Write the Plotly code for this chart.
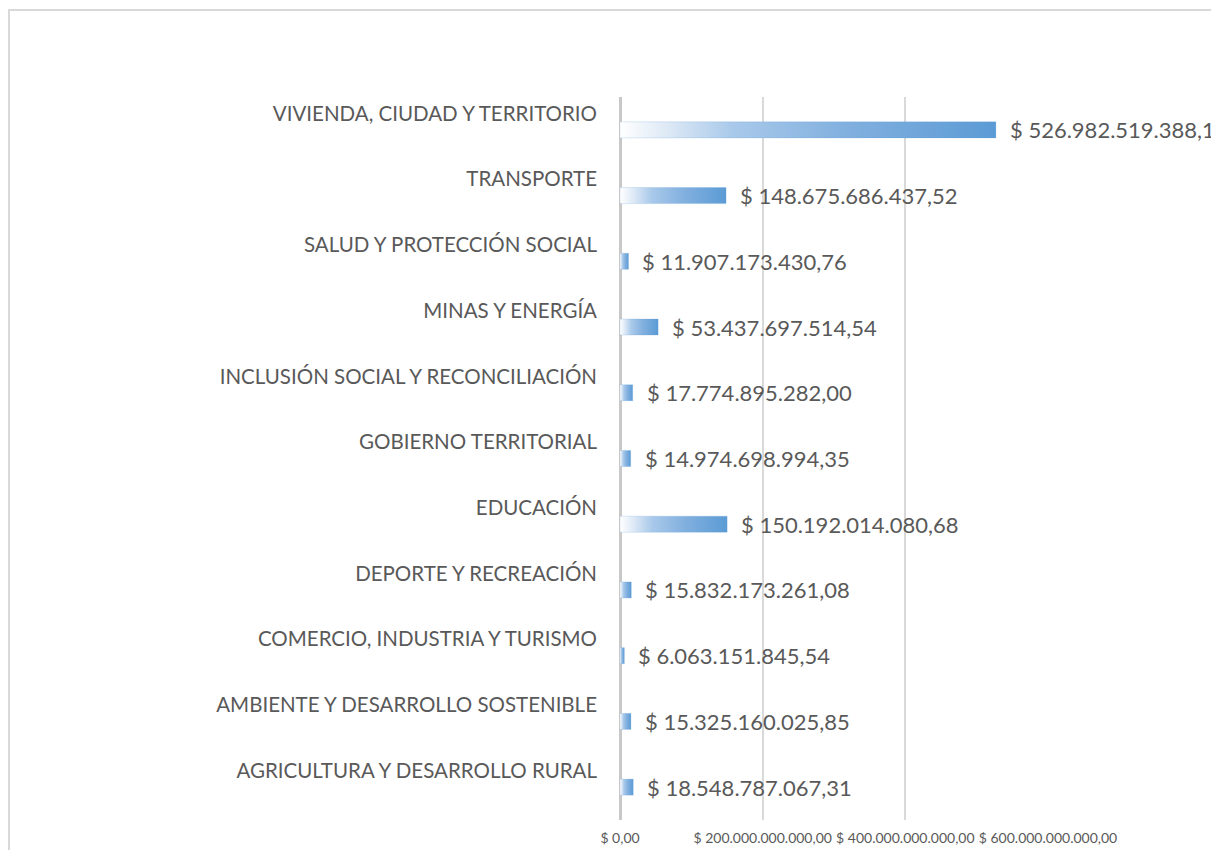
import plotly.graph_objects as go

categories = [
    "AGRICULTURA Y DESARROLLO RURAL",
    "AMBIENTE Y DESARROLLO SOSTENIBLE",
    "COMERCIO, INDUSTRIA Y TURISMO",
    "DEPORTE Y RECREACIÓN",
    "EDUCACIÓN",
    "GOBIERNO TERRITORIAL",
    "INCLUSIÓN SOCIAL Y RECONCILIACIÓN",
    "MINAS Y ENERGÍA",
    "SALUD Y PROTECCIÓN SOCIAL",
    "TRANSPORTE",
    "VIVIENDA, CIUDAD Y TERRITORIO",
]
values = [
    18548787067.31,
    15325160025.85,
    6063151845.54,
    15832173261.08,
    150192014080.68,
    14974698994.35,
    17774895282.00,
    53437697514.54,
    11907173430.76,
    148675686437.52,
    526982519388.16,
]
value_labels = [
    "$ 18.548.787.067,31",
    "$ 15.325.160.025,85",
    "$ 6.063.151.845,54",
    "$ 15.832.173.261,08",
    "$ 150.192.014.080,68",
    "$ 14.974.698.994,35",
    "$ 17.774.895.282,00",
    "$ 53.437.697.514,54",
    "$ 11.907.173.430,76",
    "$ 148.675.686.437,52",
    "$ 526.982.519.388,16",
]
x_tickvals = [0, 200e9, 400e9, 600e9]
x_ticktext = ["$ 0,00", "$ 200.000.000.000,00", "$ 400.000.000.000,00", "$ 600.000.000.000,00"]

FONT = "Lato"
GRAY = "#595959"
BAR_HALF = 0.122
LABEL_OFFSET = 0.25

grad = [[0.0, "#ffffff"], [0.12, "#dfeaf6"], [0.3, "#a9c9ea"], [0.6, "#82b0df"], [1.0, "#5b9bd5"]]

fig = go.Figure()
for i, (cat, v) in enumerate(zip(categories, values)):
    fig.add_trace(go.Scatter(
        x=[0, v, v, 0, 0],
        y=[i - BAR_HALF, i - BAR_HALF, i + BAR_HALF, i + BAR_HALF, i - BAR_HALF],
        mode="lines",
        line=dict(width=0.6, color="rgba(91,155,213,0.35)"),
        fill="toself",
        fillgradient=dict(type="horizontal", colorscale=grad),
        hoverinfo="skip",
        showlegend=False,
    ))
    fig.add_annotation(
        x=v, y=i, xref="x", yref="y", text=value_labels[i],
        showarrow=False, xanchor="left", yanchor="middle", xshift=12,
        font=dict(family=FONT, size=22, color=GRAY),
    )

fig.update_xaxes(
    range=[0, 600e9], tickvals=x_tickvals, ticktext=x_ticktext,
    showgrid=True, gridcolor="#d9d9d9", gridwidth=1.5,
    zeroline=True, zerolinecolor="#c8c8c8", zerolinewidth=2.5,
    showline=False, tickfont=dict(family=FONT, size=14, color=GRAY),
    ticks="", ticklabelstandoff=8, fixedrange=True,
)
fig.update_yaxes(
    range=[-0.5, 10.5],
    tickvals=[i + LABEL_OFFSET for i in range(len(categories))],
    ticktext=categories,
    showgrid=False, zeroline=False, showline=False, ticks="",
    ticklabelstandoff=22,
    tickfont=dict(family=FONT, size=20.5, color=GRAY),
)

# plot area: x 612..1040, y 89..812 (page has 8px body margin)
fig.add_shape(type="rect", xref="paper", yref="paper",
              x0=(1 - 612) / 428, x1=(1240 - 612) / 428,
              y0=(812 - 870) / 723, y1=(812 - 2) / 723,
              line=dict(color="#d9d9d9", width=2), fillcolor="rgba(0,0,0,0)", layer="below")

fig.update_layout(
    width=1219, height=850,
    margin=dict(l=612, r=179, t=89, b=38, autoexpand=False),
    plot_bgcolor="white", paper_bgcolor="white",
    showlegend=False,
)
fig.write_html("out.html")
